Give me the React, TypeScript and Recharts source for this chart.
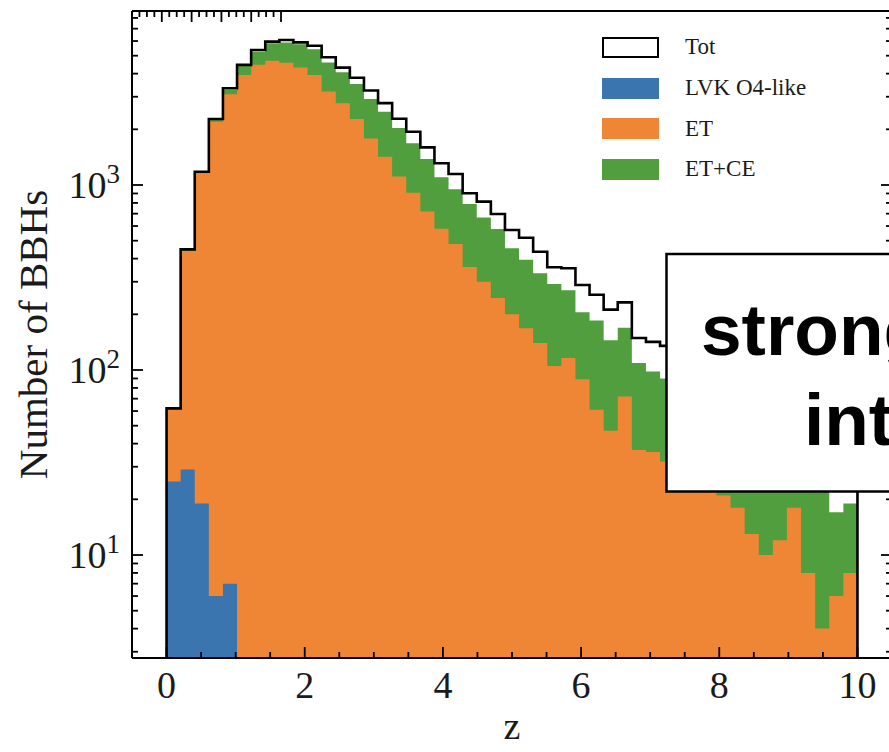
import React from 'react';
import { ComposedChart, Area, Line, XAxis, YAxis, Legend } from 'recharts';

// ---------- data ----------
const N_BINS = 49;
const Z_MAX = 10;
const binEdges: number[] = Array.from({ length: N_BINS + 1 }, (_, k) => (k * Z_MAX) / N_BINS);

const totCounts = [62, 449, 1180, 2275, 3335, 4460, 5370, 5960, 6080, 5900, 5660, 4900, 4310, 3800, 3240, 2770, 2280, 1940, 1598, 1310, 1146, 902, 813, 697, 571, 519, 436, 359, 355, 288, 255, 212, 232, 149, 142, 135, 122, 110, 95, 82, 72, 62, 55, 48, 43, 38, 33, 30, 28];
const etCeCounts = [62, 449, 1170, 2250, 3270, 4400, 5250, 5830, 5900, 5760, 5410, 4600, 4065, 3515, 2920, 2490, 2035, 1681, 1381, 1101, 948, 789, 668, 578, 455, 394, 333, 292, 270, 205, 185, 145, 169, 109, 98, 90, 80, 70, 62, 54, 47, 40, 35, 31, 29, 26, 24, 17, 19];
const etCounts = [62, 440, 1160, 2200, 3090, 3935, 4460, 4700, 4585, 4310, 3935, 3200, 2770, 2275, 1785, 1420, 1110, 908, 720, 580, 480, 360, 300, 245, 200, 168, 140, 105, 116, 89, 61, 47, 72, 37, 36, 32, 30, 27, 24, 21, 18, 13, 10, 12, 18, 8, 4, 6, 8];
const lvkCounts = [25, 29, 19, 6, 7];

const xMajorTicks = [0, 2, 4, 6, 8, 10];
const xMinorTicks = [0.5, 1, 1.5, 2.5, 3, 3.5, 4.5, 5, 5.5, 6.5, 7, 7.5, 8.5, 9, 9.5];
const yMajorTicks = [10, 100, 1000];
const yMinorTicks = [3, 4, 5, 6, 7, 8, 9, 20, 30, 40, 50, 60, 70, 80, 90, 200, 300, 400, 500, 600, 700, 800, 900, 2000, 3000, 4000, 5000, 6000, 7000, 8000];
const X_DOMAIN: [number, number] = [-0.5, 10.5];
const Y_DOMAIN: [number, number] = [2.775, 8720];

const xAllTicks = [...xMajorTicks, ...xMinorTicks].sort((a, b) => a - b);
const yAllTicks = [...yMajorTicks, ...yMinorTicks].sort((a, b) => a - b);

const BLUE = '#3B75AF';
const ORANGE = '#EF8636';
const GREEN = '#519E3E';
const TEXT = '#1a1a1a';
const SERIF = '"Liberation Serif", "Times New Roman", serif';
const SANS = '"Liberation Sans", Arial, Helvetica, sans-serif';

const legendItems = [
  { name: 'Tot', fill: '#ffffff', stroke: '#000000' },
  { name: 'LVK O4-like', fill: BLUE },
  { name: 'ET', fill: ORANGE },
  { name: 'ET+CE', fill: GREEN },
];

// table: each edge row carries the value of the bin starting there (last edge repeats last bin)
const histRows = binEdges.map((z, k) => {
  const i = Math.min(k, N_BINS - 1);
  return {
    z,
    tot: totCounts[i],
    totLine: totCounts[i],
    et: etCounts[i],
    etce: etCeCounts[i],
    lvk: k <= lvkCounts.length ? lvkCounts[Math.min(k, lvkCounts.length - 1)] : null,
  };
});
const tableData = [
  { z: 0, totLine: Y_DOMAIN[0] },
  ...histRows,
  { z: Z_MAX, totLine: Y_DOMAIN[0] },
];

// ---------- tick renderers (inward ticks, matplotlib style) ----------
const MAJOR_LEN = 11;
const MINOR_LEN = 6;
const TICK_W = 1.8;

const BottomTick = (props: any) => {
  const { x, y, payload } = props;
  const major = xMajorTicks.includes(payload.value);
  const len = major ? MAJOR_LEN : MINOR_LEN;
  return (
    <g>
      <line x1={x} x2={x} y1={y} y2={y - len} stroke="#000" strokeWidth={TICK_W} />
      {major && (
        <text x={x} y={y + 40} textAnchor="middle" fontFamily={SERIF} fontSize={38} fill={TEXT}>
          {payload.value}
        </text>
      )}
    </g>
  );
};

const TopTick = (props: any) => {
  const { x, y, payload } = props;
  const len = xMajorTicks.includes(payload.value) ? MAJOR_LEN : MINOR_LEN;
  return <line x1={x} x2={x} y1={y} y2={y + len} stroke="#000" strokeWidth={TICK_W} />;
};

const LeftTick = (props: any) => {
  const { x, y, payload } = props;
  const major = yMajorTicks.includes(payload.value);
  const len = major ? MAJOR_LEN : MINOR_LEN;
  const exp = Math.round(Math.log10(payload.value));
  return (
    <g>
      <line x1={x} x2={x + len} y1={y} y2={y} stroke="#000" strokeWidth={TICK_W} />
      {major && (
        <text x={x - 12} y={y + 13} textAnchor="end" fontFamily={SERIF} fontSize={38} fill={TEXT}>
          10
          <tspan dy={-15} fontSize={27}>
            {exp}
          </tspan>
        </text>
      )}
    </g>
  );
};

const RightTick = (props: any) => {
  const { x, y, payload } = props;
  const len = yMajorTicks.includes(payload.value) ? MAJOR_LEN : MINOR_LEN;
  return <line x1={x} x2={x - len} y1={y} y2={y} stroke="#000" strokeWidth={TICK_W} />;
};

const XLabel = (props: any) => {
  const vb = props.viewBox;
  return (
    <text x={vb.x + vb.width / 2} y={vb.y + 81} textAnchor="middle" fontFamily={SERIF} fontSize={38} fill={TEXT}>
      z
    </text>
  );
};

const YLabel = (props: any) => {
  const vb = props.viewBox;
  const cx = 33;
  const cy = vb.y + vb.height / 2;
  return (
    <text
      x={cx}
      y={cy}
      transform={`rotate(-90, ${cx}, ${cy})`}
      textAnchor="middle"
      dominantBaseline="central"
      fontFamily={SERIF}
      fontSize={41}
      fill={TEXT}
    >
      Number of BBHs
    </text>
  );
};

const renderLegend = () => (
  <div style={{ display: 'flex', flexDirection: 'column' }}>
    {legendItems.map((it) => (
      <div key={it.name} style={{ display: 'flex', alignItems: 'center', height: 40.7 }}>
        <div
          style={{
            width: 57,
            height: 21,
            background: it.fill,
            boxSizing: 'border-box',
            border: it.stroke ? `2.5px solid ${it.stroke}` : 'none',
            flex: '0 0 auto',
          }}
        />
        <span style={{ marginLeft: 26, fontFamily: SERIF, fontSize: 23, color: TEXT, whiteSpace: 'nowrap' }}>
          {it.name}
        </span>
      </div>
    ))}
  </div>
);

const spine = { stroke: '#000', strokeWidth: 2 };

export default function App() {
  return (
    <div style={{ position: 'fixed', left: 0, top: 0, width: 889, height: 752, overflow: 'hidden', background: '#fff' }}>
      <ComposedChart
        width={930}
        height={752}
        data={tableData}
        margin={{ top: 11, right: 38, bottom: 0, left: 0 }}
      >
        <Area
          xAxisId="main"
          yAxisId="main"
          dataKey="etce"
          type="stepAfter"
          fill={GREEN}
          fillOpacity={1}
          stroke="none"
          isAnimationActive={false}
          dot={false}
          activeDot={false}
        />
        <Area
          xAxisId="main"
          yAxisId="main"
          dataKey="et"
          type="stepAfter"
          fill={ORANGE}
          fillOpacity={1}
          stroke="none"
          isAnimationActive={false}
          dot={false}
          activeDot={false}
        />
        <Area
          xAxisId="main"
          yAxisId="main"
          dataKey="lvk"
          type="stepAfter"
          fill={BLUE}
          fillOpacity={1}
          stroke="none"
          isAnimationActive={false}
          dot={false}
          activeDot={false}
        />
        <Line
          xAxisId="main"
          yAxisId="main"
          dataKey="totLine"
          type="stepAfter"
          stroke="#000"
          strokeWidth={2.6}
          dot={false}
          activeDot={false}
          isAnimationActive={false}
        />

        {/* main labelled axes (bottom / left spines, inward ticks) */}
        <XAxis
          xAxisId="main"
          type="number"
          dataKey="z"
          domain={X_DOMAIN}
          allowDataOverflow
          ticks={xAllTicks}
          interval={0}
          height={94}
          tickLine={false}
          tickSize={0}
          tickMargin={0}
          axisLine={spine}
          tick={BottomTick}
          label={XLabel}
        />
        <YAxis
          yAxisId="main"
          type="number"
          scale="log"
          domain={Y_DOMAIN}
          allowDataOverflow
          ticks={yAllTicks}
          interval={0}
          width={132}
          tickLine={false}
          tickSize={0}
          tickMargin={0}
          axisLine={spine}
          tick={LeftTick}
          label={YLabel}
        />

        {/* top / right spines with inward ticks */}
        <XAxis
          xAxisId="top"
          type="number"
          orientation="top"
          mirror
          height={1}
          domain={X_DOMAIN}
          allowDataOverflow
          ticks={xAllTicks}
          interval={0}
          tickLine={false}
          tickSize={0}
          tickMargin={0}
          axisLine={spine}
          tick={TopTick}
        />
        <YAxis
          yAxisId="right"
          type="number"
          scale="log"
          orientation="right"
          mirror
          width={1}
          domain={Y_DOMAIN}
          allowDataOverflow
          ticks={yAllTicks}
          interval={0}
          tickLine={false}
          tickSize={0}
          tickMargin={0}
          axisLine={spine}
          tick={RightTick}
        />

        <Legend
          layout="vertical"
          align="center"
          verticalAlign="middle"
          content={renderLegend}
          wrapperStyle={{ left: 602, top: 27, width: 280, height: 165 }}
        />
      </ComposedChart>

      <svg width={889} height={752} style={{ position: 'absolute', left: 0, top: 0, pointerEvents: 'none' }}>
        <rect x={666.5} y={254} width={260} height={237.5} fill="#fff" stroke="#000" strokeWidth={2.5} />
        <text x={701} y={355} fontFamily={SANS} fontWeight="bold" fontSize={73} fill="#000">
          strong
        </text>
        <text x={804} y={445} fontFamily={SANS} fontWeight="bold" fontSize={73} fill="#000">
          int
        </text>
      </svg>
    </div>
  );
}
